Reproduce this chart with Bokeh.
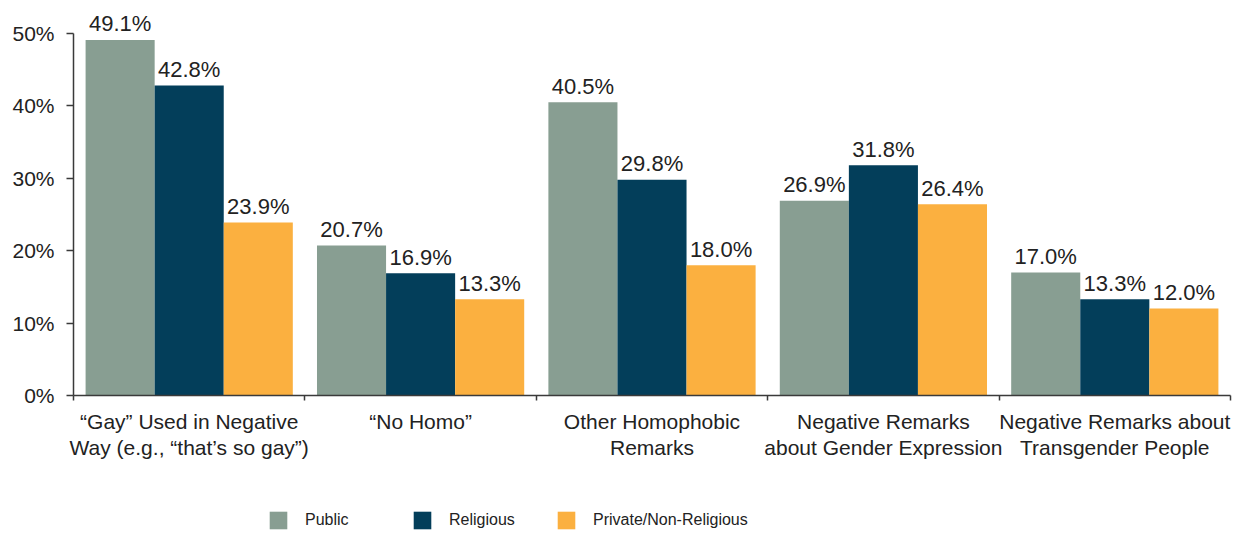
from bokeh.plotting import figure
from bokeh.layouts import column
from bokeh.models import (Range1d, LinearAxis, FixedTicker, PrintfTickFormatter,
                          ColumnDataSource, Legend, LegendItem)
from bokeh.transform import dodge
from bokeh.core.properties import value
from bokeh.embed import file_html
from bokeh.resources import INLINE

categories = ["\u201cGay\u201d Used in Negative\nWay (e.g., \u201cthat\u2019s so gay\u201d)",
              "\u201cNo Homo\u201d",
              "Other Homophobic\nRemarks",
              "Negative Remarks\nabout Gender Expression",
              "Negative Remarks about\nTransgender People"]
series_names = ["Public", "Religious", "Private/Non-Religious"]
public = [49.1, 20.7, 40.5, 26.9, 17.0]
religious = [42.8, 16.9, 29.8, 31.8, 13.3]
private = [23.9, 13.3, 18.0, 26.4, 12.0]
y_ticks = [0, 10, 20, 30, 40, 50]

colors = ["#889E92", "#033E5A", "#FBB040"]
FONT = "Liberation Sans"

pos = [i + 0.5 for i in range(len(categories))]
src = ColumnDataSource(dict(
    x=pos, public=public, religious=religious, private=private,
    public_lbl=[f"{v:.1f}%" for v in public],
    religious_lbl=[f"{v:.1f}%" for v in religious],
    private_lbl=[f"{v:.1f}%" for v in private],
))

p = figure(width=1239, height=490, output_backend="svg", toolbar_location=None,
           x_range=Range1d(0, len(categories)), y_range=Range1d(0, 53.45),
           x_axis_type=None, y_axis_type=None,
           min_border_left=73, min_border_right=9, min_border_top=8, min_border_bottom=95)
p.outline_line_color = None
p.xgrid.visible = False
p.ygrid.visible = False

bw = 0.2985
offsets = [-bw, 0, bw]
keys = ["public", "religious", "private"]
for k, off, c in zip(keys, offsets, colors):
    p.vbar(x=dodge("x", off, range=p.x_range), top=k, width=bw, bottom=0,
           source=src, fill_color=c, line_color=None)
    p.text(x=dodge("x", off, range=p.x_range), y=k, text=k + "_lbl", source=src,
           text_align="center", text_baseline="alphabetic", y_offset=-16,
           text_font=value(FONT), text_font_size="22px", text_color="#222222")

axis_color = "#3a3a3a"
yaxis = LinearAxis(ticker=FixedTicker(ticks=y_ticks),
                   formatter=PrintfTickFormatter(format="%d%%"))
yaxis.bounds = (0, 50)
yaxis.axis_line_color = axis_color
yaxis.axis_line_width = 1.5
yaxis.major_tick_line_color = axis_color
yaxis.major_tick_line_width = 1.5
yaxis.major_tick_out = 7
yaxis.major_tick_in = 0
yaxis.minor_tick_line_color = None
yaxis.major_label_standoff = 12
yaxis.major_label_text_font = FONT
yaxis.major_label_text_font_size = "21px"
yaxis.major_label_text_color = "#222222"
p.add_layout(yaxis, "left")

xaxis = LinearAxis(ticker=FixedTicker(ticks=pos, minor_ticks=list(range(len(categories) + 1))))
xaxis.major_label_overrides = {pv: c for pv, c in zip(pos, categories)}
xaxis.axis_line_color = axis_color
xaxis.axis_line_width = 1.5
xaxis.major_tick_line_color = None
xaxis.minor_tick_line_color = axis_color
xaxis.minor_tick_line_width = 1.5
xaxis.minor_tick_out = 5
xaxis.minor_tick_in = 0
xaxis.major_label_standoff = 8
xaxis.major_label_text_font = FONT
xaxis.major_label_text_font_size = "21px"
xaxis.major_label_text_color = "#222222"
xaxis.major_label_text_line_height = 1.17
p.add_layout(xaxis, "below")

# legend strip below the chart
lg = figure(width=1239, height=45, output_backend="svg", toolbar_location=None,
            x_range=Range1d(0, 1), y_range=Range1d(0, 1),
            x_axis_type=None, y_axis_type=None,
            min_border_left=0, min_border_right=0, min_border_top=0, min_border_bottom=0)
lg.outline_line_color = None
lg.xgrid.visible = False
lg.ygrid.visible = False
swatch_src = ColumnDataSource(dict(x=[0.5], top=[0]))
leg_renderers = [lg.vbar(x="x", top="top", width=0, source=swatch_src, fill_color=c, line_color=None)
                 for c in colors]
legend = Legend(items=[LegendItem(label=n, renderers=[r]) for n, r in zip(series_names, leg_renderers)],
                orientation="horizontal", location=(194, 4))
legend.glyph_width = 22
legend.glyph_height = 22
legend.label_height = 22
legend.label_width = 90
legend.label_standoff = 16
legend.spacing = 16
legend.padding = 0
legend.margin = 0
legend.border_line_color = None
legend.background_fill_alpha = 0
legend.label_text_font = FONT
legend.label_text_font_size = "16px"
legend.label_text_color = "#222222"
lg.add_layout(legend, "center")

layout = column(p, lg, spacing=0)
open("out.html", "w").write(file_html(layout, INLINE))
